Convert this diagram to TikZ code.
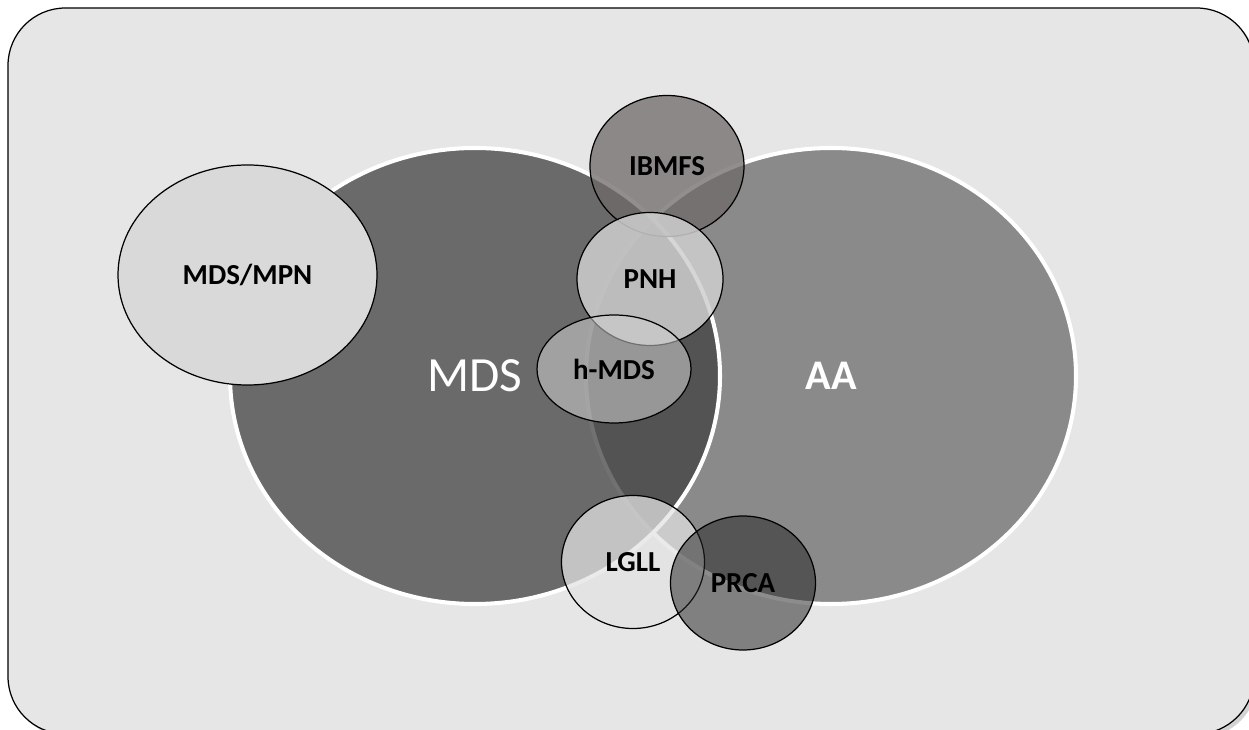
\documentclass[tikz,border=0pt]{standalone}
\usepackage{fontspec}
\setmainfont{Carlito}
\usepackage{tikz}
\usetikzlibrary{shapes.geometric, shadows}
\definecolor{VNBack}{RGB}{230,230,230}
\definecolor{VNMds}{RGB}{64,64,64}
\definecolor{VNAa}{RGB}{138,138,138}
\definecolor{VNMpn}{RGB}{217,217,217}
\definecolor{VNIbm}{RGB}{112,105,105}
\definecolor{VNLight}{RGB}{207,207,207}
\definecolor{VNLgll}{RGB}{227,227,227}
\definecolor{VNPrca}{RGB}{38,38,38}

\begin{document}
\begin{tikzpicture}[
          bigset/.style={ellipse, draw=white, line width=2.3pt, inner sep=0pt,
                         minimum width=9.8cm, minimum height=9.12cm,
                         text=white},
          subset/.style={ellipse, draw=black, line width=0.7pt, inner sep=0pt,
                         text opacity=1, font=\fontsize{16.5}{18}\selectfont\bfseries}
        ]
        \useasboundingbox (0,0) rectangle (24.98,14.58);
        \node[draw=black, line width=0.7pt, fill=VNBack, rounded corners=1.15cm,
              drop shadow={shadow xshift=0.07cm, shadow yshift=-0.07cm, opacity=0.35},
              minimum width=24.92cm, minimum height=14.52cm, inner sep=0pt]
              (frame) at (12.62,7.16) {};

        % the two main sets
        \node[bigset, fill=VNAa, font=\fontsize{24}{28}\selectfont\bfseries]
              (aa) at (16.62,7.06) {AA};
        \node[bigset, fill=VNMds, fill opacity=0.74, text opacity=1,
              font=\fontsize{28}{32}\selectfont]
              (mds) at (9.5,7.06) {MDS};

        % overlapping entities
        \node[subset, fill=VNMpn, minimum width=5.18cm, minimum height=4.4cm]
              (mpn) at (4.95,9.08) {MDS/MPN};
        \node[subset, fill=VNIbm, fill opacity=0.75, minimum width=3.08cm,
              minimum height=2.82cm] (ibmfs) at (13.34,11.26) {IBMFS};
        \node[subset, fill=VNLight, fill opacity=0.85, minimum width=2.92cm,
              minimum height=2.66cm] (pnh) at (13.0,9.0) {PNH};
        \node[subset, fill=VNLight, fill opacity=0.55, minimum width=3.08cm,
              minimum height=2.16cm] (hmds) at (12.28,7.2) {h-MDS};
        \node[subset, fill=VNLgll, fill opacity=0.74, minimum width=2.86cm,
              minimum height=2.66cm] (lgll) at (12.66,3.34) {LGLL};
        \node[subset, fill=VNPrca, fill opacity=0.53, minimum width=2.9cm,
              minimum height=2.68cm] (prca) at (14.86,2.92) {PRCA};
      \end{tikzpicture}
\end{document}
